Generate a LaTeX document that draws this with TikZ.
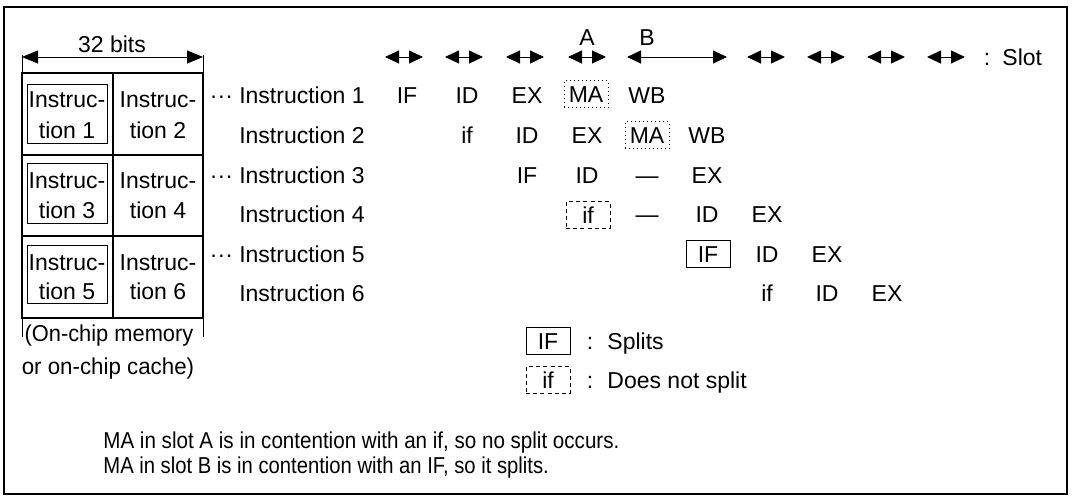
\documentclass[tikz,border=0pt]{standalone}
\usepackage{fontspec}
\setmainfont{Liberation Sans}
\usetikzlibrary{arrows.meta}
\begin{document}
\begin{tikzpicture}[x=0.5pt,y=-0.5pt,
  txt/.style={inner sep=0pt, font=\fontsize{11.5}{14}\selectfont, text height=8.2pt, text depth=0pt},
  stage/.style={txt, minimum width=22pt, minimum height=13.5pt},
  splitbox/.style={stage, draw, line width=0.5pt},
  nosplitbox/.style={stage, draw, dash pattern=on 2pt off 1.6pt, line width=0.5pt},
  dotbox/.style={stage, draw, dash pattern=on 0.5pt off 1.5pt, line width=0.5pt},
  frameline/.style={line width=1pt},
  gridline/.style={line width=0.9pt},
  thinbox/.style={line width=0.5pt},
  slotarrow/.style={{Triangle[length=7pt,width=6.5pt]}-{Triangle[length=7pt,width=6.5pt]}, line width=0.5pt},
  bitsarrow/.style={{Triangle[length=8pt,width=6.5pt]}-{Triangle[length=8pt,width=6.5pt]}, line width=0.5pt}
]
\useasboundingbox (0,0) rectangle (1074,498);
% outer frame
\draw[frameline] (4,7) rectangle (1067,494);

% ---- memory ----
\coordinate (bl) at (22,57);
\coordinate (br) at (203,57);
\draw[bitsarrow] (bl) -- (br);
\node[txt] (bits) at (112,44) {32 bits};
\draw[thinbox] (22,55) -- (22,337);
\draw[thinbox] (203,55) -- (203,337);
\draw[gridline] (22,73) rectangle (203,318);
\draw[gridline] (22,155) -- (203,155);
\draw[gridline] (22,236) -- (203,236);
\draw[gridline] (113,73) -- (113,318);
\draw[thinbox] (27,84) rectangle (107,143);
\draw[thinbox] (27,163) rectangle (107,223);
\draw[thinbox] (27,245) rectangle (107,303);
\node[txt] (m1a) at (67,99.5) {Instruc-};
\node[txt] (m1b) at (67,130) {tion 1};
\node[txt] (m2a) at (158,99.5) {Instruc-};
\node[txt] (m2b) at (158,130) {tion 2};
\node[txt] (m3a) at (67,180) {Instruc-};
\node[txt] (m3b) at (67,210) {tion 3};
\node[txt] (m4a) at (158,180) {Instruc-};
\node[txt] (m4b) at (158,210) {tion 4};
\node[txt] (m5a) at (67,262) {Instruc-};
\node[txt] (m5b) at (67,291) {tion 5};
\node[txt] (m6a) at (158,262) {Instruc-};
\node[txt] (m6b) at (158,291) {tion 6};
\node[txt] (mem1) at (109,333) {\scalebox{0.95}[1]{(On-chip memory}};
\node[txt] (mem2) at (108,366) {\scalebox{0.97}[1]{or on-chip cache)}};

% ---- instruction labels ----
\node[txt, anchor=east] (i1) at (365,95) {··· Instruction 1};
\node[txt, anchor=east] (i2) at (365,135) {Instruction 2};
\node[txt, anchor=east] (i3) at (365,175) {··· Instruction 3};
\node[txt, anchor=east] (i4) at (365,214) {Instruction 4};
\node[txt, anchor=east] (i5) at (365,254) {··· Instruction 5};
\node[txt, anchor=east] (i6) at (365,293) {Instruction 6};

% ---- slots ----
\foreach \c [count=\i] in {404,464,525,587,766,826,886,946} {
  \coordinate (sl\i) at (\c-19,57);
  \coordinate (sr\i) at (\c+19,57);
  \draw[slotarrow] (sl\i) -- (sr\i);
}
\coordinate (bL) at (627,57);
\coordinate (bR) at (727,57);
\draw[slotarrow] (bL) -- (bR);
\node[txt] (lA) at (587,37) {A};
\node[txt] (lB) at (647,37) {B};
\node[txt] (slc) at (987,57) {:};
\node[txt, anchor=west] (slot) at (1002,57) {Slot};

% ---- pipeline ----
% row 1
\node[stage] (r1a) at (407,95) {IF};
\node[stage] (r1b) at (467,95) {ID};
\node[stage] (r1c) at (527,95) {EX};
\node[dotbox] (r1d) at (586,94) {MA};
\node[stage] (r1e) at (647,95) {WB};
% row 2
\node[stage] (r2a) at (467,135) {if};
\node[stage] (r2b) at (527,135) {ID};
\node[stage] (r2c) at (587,135) {EX};
\node[dotbox] (r2d) at (647,135) {MA};
\node[stage] (r2e) at (707,135) {WB};
% row 3
\node[stage] (r3a) at (527,175) {IF};
\node[stage] (r3b) at (587,175) {ID};
\node[stage] (r3c) at (647,175) {---};
\node[stage] (r3d) at (707,175) {EX};
% row 4
\node[nosplitbox] (r4a) at (588,215) {if};
\node[stage] (r4b) at (647,214) {---};
\node[stage] (r4c) at (707,214) {ID};
\node[stage] (r4d) at (767,214) {EX};
% row 5
\node[splitbox] (r5a) at (708,254) {IF};
\node[stage] (r5b) at (767,254) {ID};
\node[stage] (r5c) at (827,254) {EX};
% row 6
\node[stage] (r6a) at (767,293) {if};
\node[stage] (r6b) at (827,293) {ID};
\node[stage] (r6c) at (887,293) {EX};

% ---- legend ----
\node[splitbox] (lg1) at (548,341) {IF};
\node[txt] (lg1c) at (590,341) {:};
\node[txt, anchor=west] (lg1t) at (607,341) {Splits};
\node[nosplitbox] (lg2) at (548,380) {if};
\node[txt] (lg2c) at (590,380) {:};
\node[txt, anchor=west] (lg2t) at (607,380) {Does not split};

% ---- notes ----
\node[txt, anchor=west] (n1) at (103,440) {\scalebox{0.895}[1]{MA in slot A is in contention with an if, so no split occurs.}};
\node[txt, anchor=west] (n2) at (103,465) {\scalebox{0.88}[1]{MA in slot B is in contention with an IF, so it splits.}};
\end{tikzpicture}
\end{document}
